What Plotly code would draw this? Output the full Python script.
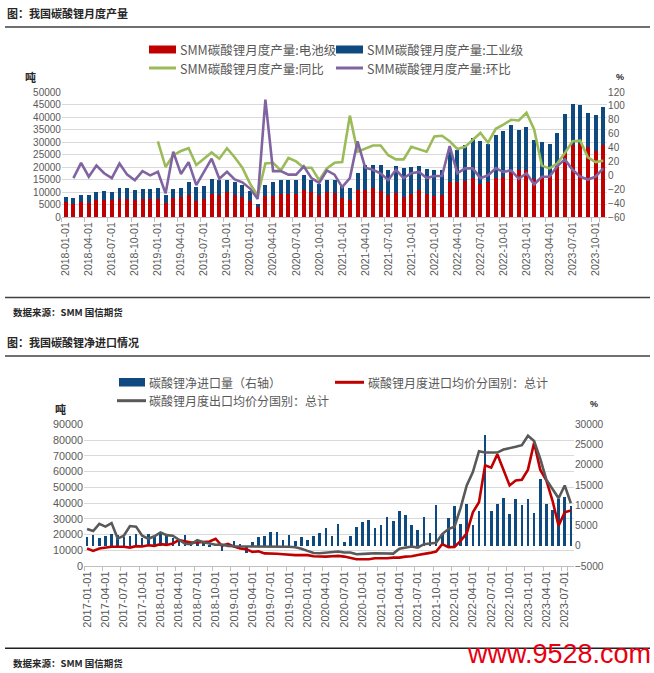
import plotly.graph_objects as go
import pandas as pd

W, H = 654, 673

# ---------------- data: top chart (monthly output, 2018-01 .. 2023-11) ----------------
months_top = pd.date_range("2018-01-01", periods=71, freq="MS").strftime("%Y-%m-%d").tolist()

battery_grade = [6000, 5300, 6000, 5600, 6900, 7000, 6900, 7300, 7300, 6700, 7200, 7300,
                 7300, 5600, 7700, 8000, 8700, 6400, 7300, 9300, 9000, 10000, 8700, 8000,
                 6300, 4000, 8400, 8400, 9100, 9300, 9100, 10700, 10000, 8800, 10100, 9700,
                 7600, 6700, 10700, 11000, 11700, 10300, 8700, 9600, 8000, 9300, 10700, 9300,
                 8400, 8900, 14000, 14000, 14300, 15600, 13300, 14000, 15600, 16000, 17600, 19000,
                 19000, 15300, 16300, 16300, 21000, 26000, 28700, 29300, 28000, 26300, 29000]

industrial_grade = [2000, 2400, 3000, 3200, 3100, 3400, 3100, 4400, 4400, 4100, 4100, 4000,
                    4400, 3100, 3600, 3700, 5300, 5600, 5300, 6000, 6000, 5000, 5300, 4700,
                    4000, 1300, 4600, 5600, 5600, 5400, 5900, 6000, 5000, 4400, 4900, 5300,
                    5400, 5000, 6900, 10000, 9300, 10700, 10300, 10800, 11600, 10700, 9700, 10000,
                    10600, 9800, 12400, 12700, 14700, 16100, 17100, 15300, 17400, 18300, 19100, 16000,
                    17000, 15700, 13700, 13000, 12600, 15300, 16600, 15700, 13700, 14400, 15000]

yoy_pct = [None] * 12 + [49, 12, 29, 35, 39, 15, 24, 33, 24, 39, 26, 11,
                         -12, -29, 17, 18, 7, 25, 20, 11, 11, -7, 10, 18,
                         19, 86, 34, 39, 43, 43, 29, 23, 23, 41, 38, 34,
                         56, 57, 49, 38, 41, 51, 61, 47, 67, 73, 80, 79,
                         90, 66, 14, 10, 17, 32, 49, 50, 26, 19, 21]

mom_pct = [None, -4, 18, -2, 14, 3, -4, 17, 1, -7, 6, 0,
           5, -26, 34, 2, 19, -14, 5, 24, -5, 5, -6, -10,
           -19, -34, 109, 6, 6, 1, 1, 13, -4, -11, 7, 1,
           -17, -4, 49, 11, 8, 3, -7, 8, -4, 3, 5, -4,
           -1, -1, 42, 3, 10, 10, -4, 0, 10, 5, 7, -5,
           3, -13, -2, -2, 13, 23, 8, -2, -6, -2, 10]

# ---------------- data: bottom chart (net import, 2017-01 .. 2023-08) ----------------
months_bot = pd.date_range("2017-01-01", periods=80, freq="MS").strftime("%Y-%m-%d").tolist()

net_import = [2100, 2600, 2000, 2400, 3000, 2600, 2200, 2400, 2800, 2000, 3000, 2400,
              3000, 2400, 1800, 1600, 2600, 1000, 1400, 700, -400, 300, -1200, -300,
              1100, 200, -1700, 1000, 2100, 2300, 3300, 3400, 1500, 2600, 1200, 2100,
              1400, 2400, 3100, 4300, 2500, 5270, 990, 2400, 4600, 5760, 6340, 4290,
              5200, 7000, 6100, 8570, 7700, 5200, 3870, 7000, 3210, 10000, 2800, 6900,
              9800, 5350, 10200, 5020, 8560, 27300, 8640, 10200, 11690, 7740, 11440, 9960,
              11440, 8150, 16460, 10290, 8800, 11440, 12100, 9790]

import_price = [11100, 9600, 11100, 11700, 12200, 12200, 12200, 11700, 12600, 12400, 13200, 12800,
                13900, 13400, 14300, 16400, 15600, 14900, 14900, 15100, 15600, 17300, 12800, 14100,
                12300, 11200, 10700, 9000, 9300, 8000, 8000, 7800, 7500, 7100, 6900, 7000,
                6900, 6200, 5900, 5970, 6180, 6400, 5970, 4900, 4260, 4260, 4260, 4900,
                4690, 4900, 5330, 5330, 5970, 6180, 7030, 7460, 8320, 9170, 13860, 12000,
                12150, 15990, 20680, 34110, 40510, 63960, 62470, 70930, 61190, 51160, 54360, 54800,
                61190, 78250, 61190, 54360, 41580, 25590, 34110, 35180]

export_price = [23500, 22200, 26800, 25000, 27300, 17400, 19200, 25400, 25000, 19200, 17300, 18900,
                21300, 19600, 19200, 16500, 14100, 13900, 16400, 15100, 14300, 13500, 13600, 12800,
                12500, 12500, 12400, 12400, 12500, 12400, 12400, 12400, 12300, 12200, 11900, 11000,
                9600, 8300, 8100, 8300, 8530, 9170, 8530, 8530, 7460, 7890, 7890, 8100,
                8100, 7890, 7890, 11000, 11500, 12360, 11730, 13860, 14280, 14710, 20250, 23450,
                24950, 36900, 51160, 59680, 72900, 72060, 72060, 72060, 73980, 74620, 75690, 76760,
                82730, 79320, 68230, 54800, 49040, 43070, 51160, 39860]

# ---------------- styling ----------------
RED = "#C00000"
BLUE = "#0E4A7F"
GREEN = "#9BBB59"
PURPLE = "#8064A2"
GRAY = "#595959"
TICK = "#595959"
GRID = "#D9D9D9"
AXLINE = "#BFBFBF"
NUM_FONT = "Liberation Sans, Arial, sans-serif"
CJK_FONT = "Noto Sans CJK SC, sans-serif"


def fx(px):
    return px / W


def fy(py):
    return 1 - py / H


fig = go.Figure()

# top chart traces
fig.add_trace(go.Bar(x=months_top, y=battery_grade, name="SMM碳酸锂月度产量:电池级",
                     marker=dict(color=RED, line=dict(width=0)), width=0.52,
                     xaxis="x", yaxis="y"))
fig.add_trace(go.Bar(x=months_top, y=industrial_grade, name="SMM碳酸锂月度产量:工业级",
                     marker=dict(color=BLUE, line=dict(width=0)), width=0.52,
                     xaxis="x", yaxis="y"))
fig.add_trace(go.Scatter(x=months_top, y=yoy_pct, name="SMM碳酸锂月度产量:同比", mode="lines",
                         line=dict(color=GREEN, width=2.6), xaxis="x", yaxis="y2"))
fig.add_trace(go.Scatter(x=months_top, y=mom_pct, name="SMM碳酸锂月度产量:环比", mode="lines",
                         line=dict(color=PURPLE, width=2.6), xaxis="x", yaxis="y2"))

# bottom chart traces
fig.add_trace(go.Bar(x=months_bot, y=net_import, name="碳酸锂净进口量（右轴）",
                     marker=dict(color=BLUE, line=dict(width=0)), width=0.42,
                     xaxis="x2", yaxis="y3"))
fig.add_trace(go.Scatter(x=months_bot, y=import_price, name="碳酸锂月度进口均价分国别：总计",
                         mode="lines", line=dict(color=RED, width=2.6), xaxis="x2", yaxis="y4"))
fig.add_trace(go.Scatter(x=months_bot, y=export_price, name="碳酸锂月度出口均价分国别：总计",
                         mode="lines", line=dict(color=GRAY, width=2.6), xaxis="x2", yaxis="y4"))

common_x = dict(type="category", tickangle=-90, showgrid=False, zeroline=False,
                showline=True, linecolor=AXLINE, linewidth=1, ticks="outside", ticklen=4,
                tickcolor=AXLINE, tickson="boundaries", automargin=False,
                tickfont=dict(family=NUM_FONT, color=TICK))
common_y = dict(zeroline=False, showline=False, ticks="", automargin=False, tickformat="d",
                tickfont=dict(family=NUM_FONT, color=TICK))

fig.update_layout(
    width=W, height=H, autosize=False,
    margin=dict(l=0, r=0, t=0, b=0, pad=0),
    paper_bgcolor="white", plot_bgcolor="white",
    barmode="stack", showlegend=False, template="none",
    xaxis=dict(common_x, domain=[fx(61.9), fx(607.1)], anchor="y", range=[-0.5, 70.5],
               tickmode="array", tickvals=months_top[::3],
               tickfont=dict(family=NUM_FONT, color=TICK, size=10.5)),
    yaxis=dict(common_y, domain=[fy(217), fy(92)], anchor="x", range=[0, 50000],
               tick0=0, dtick=5000, showgrid=True, gridcolor=GRID, gridwidth=1,
               tickfont=dict(family=NUM_FONT, color=TICK, size=10)),
    yaxis2=dict(common_y, overlaying="y", side="right", anchor="x", range=[-60, 120],
                tick0=-60, dtick=20, showgrid=False,
                tickfont=dict(family=NUM_FONT, color=TICK, size=10)),
    xaxis2=dict(common_x, domain=[fx(84), fx(573.9)], anchor="y3", range=[-0.5, 79.5],
                tickmode="array", tickvals=months_bot[::3],
                tickfont=dict(family=NUM_FONT, color=TICK, size=11)),
    yaxis3=dict(common_y, domain=[fy(566), fy(424.3)], anchor="x2", side="right",
                range=[-5000, 30000], tick0=-5000, dtick=5000, showgrid=False,
                tickfont=dict(family=NUM_FONT, color=TICK, size=10.2)),
    yaxis4=dict(common_y, overlaying="y3", side="left", anchor="x2", range=[0, 90000],
                tick0=0, dtick=10000, showgrid=True, gridcolor=GRID, gridwidth=1,
                tickfont=dict(family=NUM_FONT, color=TICK, size=10.8)),
)

shapes = []
annotations = []


def hline(y, x0=5, x1=650, color="#404040", width=1.5):
    shapes.append(dict(type="line", xref="paper", yref="paper", x0=fx(x0), x1=fx(x1),
                       y0=fy(y), y1=fy(y), line=dict(color=color, width=width)))


def text(x, y, s, size, color="#595959", family=CJK_FONT, anchor="left"):
    annotations.append(dict(x=fx(x), y=fy(y), xref="paper", yref="paper", text=s,
                            showarrow=False, xanchor=anchor, yanchor="middle",
                            font=dict(family=family, size=size, color=color)))


def box(x0, x1, y0, y1, color):
    shapes.append(dict(type="rect", xref="paper", yref="paper", x0=fx(x0), x1=fx(x1),
                       y0=fy(y1), y1=fy(y0), fillcolor=color, line=dict(width=0)))


def swatch_line(x0, x1, y, color):
    shapes.append(dict(type="line", xref="paper", yref="paper", x0=fx(x0), x1=fx(x1),
                       y0=fy(y), y1=fy(y), line=dict(color=color, width=3)))


# ---- top section ----
text(5, 12.5, "<b>图：我国碳酸锂月度产量</b>", 11, color="#262626")
hline(27)
box(149, 176, 45.5, 53.5, RED)
text(178, 49.5, "SMM碳酸锂月度产量:电池级", 12.5)
box(336, 363, 45.5, 53.5, BLUE)
text(365, 49.5, "SMM碳酸锂月度产量:工业级", 12.5)
swatch_line(149, 176, 68, GREEN)
text(178, 68.5, "SMM碳酸锂月度产量:同比", 12.5)
swatch_line(336, 363, 68, PURPLE)
text(365, 68.5, "SMM碳酸锂月度产量:环比", 12.5)
text(30.5, 76.5, "<b>吨</b>", 11, color="#262626", anchor="center")
text(620, 76.5, "<b>%</b>", 9, color="#262626", family=NUM_FONT, anchor="center")
hline(297.5)
text(11, 311.5, "<b>数据来源：SMM 国信期货</b>", 9.5, color="#262626")

# ---- bottom section ----
text(5, 342, "<b>图：我国碳酸锂净进口情况</b>", 11, color="#262626")
hline(356)
box(119, 145, 378, 386.5, BLUE)
text(147, 382.3, "碳酸锂净进口量（右轴）", 12)
swatch_line(335, 364, 382.3, RED)
text(366, 382.3, "碳酸锂月度进口均价分国别：总计", 12)
swatch_line(117, 146, 400.7, GRAY)
text(147, 400.7, "碳酸锂月度出口均价分国别：总计", 12)
text(60, 409.5, "<b>吨</b>", 11, color="#262626", anchor="center")
text(594, 404, "<b>%</b>", 9, color="#262626", family=NUM_FONT, anchor="center")
hline(648.3, color="#202020")
text(11, 662.7, "<b>数据来源：SMM 国信期货</b>", 9.5, color="#262626")

# watermark
text(653, 654, "www.9528.com", 27, color="#E60012", family=NUM_FONT, anchor="right")

fig.update_layout(shapes=shapes, annotations=annotations)

fig.write_html(
    "out.html",
    config={"displayModeBar": False},
    post_script="document.body.style.margin='0px';document.body.style.overflow='hidden';",
)
